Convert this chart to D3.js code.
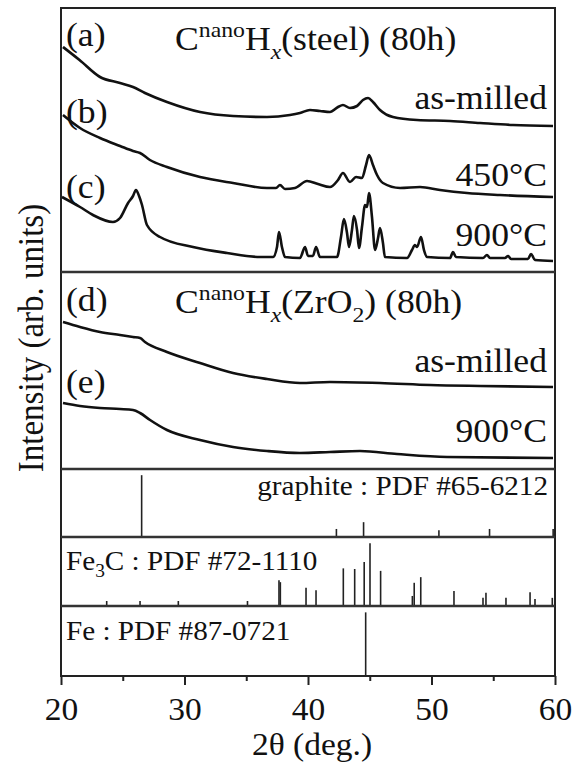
<!DOCTYPE html>
<html>
<head>
<meta charset="utf-8">
<script src="https://cdn.jsdelivr.net/npm/d3@7"></script>
<style>
  html, body { margin: 0; padding: 0; background: #fff; }
  svg { display: block; }
  text { font-family: 'Liberation Serif', 'Times New Roman', serif; fill: #111; }
</style>
</head>
<body>
<div id="root"></div>
<script>
const width = 576;
const height = 769;
const plot = { left: 61, right: 555, top: 8, bottom: 676 };
const panelEdges = [8, 272, 469, 537, 606, 676];
const stretch = 1.08;

// XRD patterns: [2theta (deg), intensity (arb. units)]

const steelAsMilled = [
  [20.16, 225], [21.5, 212], [23.16, 195], [24.78, 189], [25.83, 185], [26.8, 179],
  [28.58, 170], [31.26, 160], [33.93, 156], [36.68, 155], [38.54, 157], [39.35, 159],
  [40.16, 162], [40.97, 161], [41.78, 160], [42.43, 165], [42.83, 167], [43.4, 164],
  [43.97, 166], [44.45, 172], [44.86, 174], [45.26, 170], [45.83, 162], [46.88, 155],
  [48.83, 152], [51.5, 151], [53.93, 149], [56.6, 147], [59.84, 146],
];

const steel450 = [
  [20.16, 157], [21.54, 144], [23.16, 134], [24.78, 126], [25.83, 121], [26.4, 119],
  [27.2, 112], [28.58, 105], [31.26, 95], [33.93, 89], [36.68, 84], [37.41, 84],
  [37.73, 87], [38.14, 83], [38.95, 84], [39.92, 91], [40.81, 88], [41.78, 85],
  [42.43, 92], [42.83, 99], [43.4, 90], [43.89, 95], [44.37, 94], [44.7, 107],
  [44.94, 117], [45.26, 107], [45.59, 97], [46.07, 89], [47.45, 84], [49.07, 85],
  [50.69, 82], [52.87, 79], [55.55, 77], [59.84, 75],
];

const steel900 = [
  [20.08, 75], [21.54, 65], [22.59, 57], [24.21, 50], [24.78, 54], [25.43, 69],
  [25.83, 76], [26.07, 82], [26.32, 76], [26.56, 67], [26.96, 47], [28.02, 35],
  [30.69, 25], [33.44, 19], [36.11, 15], [37.17, 15], [37.49, 25], [37.65, 40],
  [37.89, 25], [38.14, 15], [39.35, 14], [39.76, 25], [40.0, 16], [40.4, 16],
  [40.65, 25], [40.97, 15], [42.35, 15], [42.67, 35], [42.91, 53], [43.16, 39],
  [43.32, 25], [43.56, 42], [43.72, 56], [43.97, 42], [44.13, 24], [44.37, 45],
  [44.62, 67], [44.78, 65], [44.94, 79], [45.18, 55], [45.43, 22], [45.67, 34],
  [45.83, 44], [46.07, 29], [46.23, 15], [48.02, 14], [48.42, 22], [48.66, 27],
  [48.83, 25], [49.15, 35], [49.39, 22], [49.64, 15], [51.5, 14], [51.74, 20],
  [51.98, 15], [54.17, 14], [54.49, 17], [54.74, 14], [55.95, 14], [56.2, 16],
  [56.44, 13], [57.81, 13], [58.06, 18], [58.38, 12], [59.84, 11],
];

const zrAsMilled = [
  [20.16, 147], [21.54, 142], [23.16, 137], [24.78, 134], [25.83, 132], [26.4, 131],
  [26.8, 127], [28.58, 117], [31.26, 106], [33.93, 96], [36.68, 90], [39.35, 86],
  [41.78, 87], [45.83, 86], [49.88, 84], [53.93, 83], [59.84, 82],
];

const zr900 = [
  [20.16, 66], [21.54, 63], [23.16, 61], [24.78, 60], [25.83, 59], [26.4, 56],
  [27.21, 49], [28.58, 39], [31.26, 29], [33.93, 22], [36.68, 18], [39.35, 16],
  [41.78, 17], [44.21, 18], [47.21, 15], [51.26, 12], [59.84, 11],
];

// Reference patterns: [2theta (deg), relative intensity]

const graphiteRef = [
  [26.53, 100], [42.3, 13], [44.5, 24], [50.6, 11], [54.7, 13], [59.85, 13],
];

const fe3cRef = [
  [23.7, 8], [26.4, 8], [29.5, 8], [35.1, 8], [37.65, 41], [37.76, 38],
  [39.84, 29], [40.65, 25], [42.86, 60], [43.78, 59], [44.55, 70], [45.02, 100],
  [45.88, 56], [48.45, 16], [48.6, 37], [49.13, 46], [51.82, 24], [54.17, 13],
  [54.41, 21], [56.03, 13], [57.98, 22], [58.38, 11], [59.78, 13],
];

const feRef = [[44.67, 100]];

const xTicks = [20, 30, 40, 50, 60];
const xMinorTicks = [25, 35, 45, 55];

// Canvas

const svg = d3
  .select('#root')
  .append('svg')
  .attr('width', width)
  .attr('height', height);

// Scales

const x = d3.scaleLinear().domain([20, 60]).range([plot.left, plot.right]);

const yTop = d3.scaleLinear().domain([0, 264]).range([panelEdges[1], panelEdges[0]]);
const yMid = d3.scaleLinear().domain([0, 197]).range([panelEdges[2], panelEdges[1]]);

const stickScale = (i) =>
  d3.scaleLinear().domain([0, 110]).range([panelEdges[i + 1], panelEdges[i]]);

// Text helper, the original figure is slightly wider than tall

function label(px, py, size, anchor) {
  return svg
    .append('text')
    .attr('transform', `translate(${px},${py}) scale(${stretch},1)`)
    .attr('font-size', size)
    .attr('text-anchor', anchor || 'start');
}

// Patterns

const drawPattern = (data, yScale) => {
  const line = d3
    .line()
    .x((d) => x(d[0]))
    .y((d) => yScale(d[1]))
    .curve(d3.curveMonotoneX);

  svg
    .append('path')
    .datum(data)
    .attr('d', line)
    .attr('fill', 'none')
    .attr('stroke', '#111')
    .attr('stroke-width', 2.6)
    .attr('stroke-linejoin', 'round');
};

drawPattern(steelAsMilled, yTop);
drawPattern(steel450, yTop);
drawPattern(steel900, yTop);
drawPattern(zrAsMilled, yMid);
drawPattern(zr900, yMid);

// Reference sticks

[graphiteRef, fe3cRef, feRef].forEach((ref, i) => {
  const ys = stickScale(i + 2);
  svg
    .append('g')
    .selectAll('line')
    .data(ref)
    .enter()
    .append('line')
    .attr('x1', (d) => x(d[0]))
    .attr('x2', (d) => x(d[0]))
    .attr('y1', ys(0))
    .attr('y2', (d) => ys(d[1]))
    .attr('stroke', '#222')
    .attr('stroke-width', 1.6);
});

// Frame and panel dividers

svg
  .append('rect')
  .attr('x', plot.left)
  .attr('y', plot.top)
  .attr('width', plot.right - plot.left)
  .attr('height', plot.bottom - plot.top)
  .attr('fill', 'none')
  .attr('stroke', '#222')
  .attr('stroke-width', 2);

svg
  .append('g')
  .selectAll('line')
  .data(panelEdges.slice(1, 5))
  .enter()
  .append('line')
  .attr('x1', plot.left)
  .attr('x2', plot.right)
  .attr('y1', (d) => d)
  .attr('y2', (d) => d)
  .attr('stroke', '#333')
  .attr('stroke-width', 2.5);

// Axis

const xAxis = d3
  .axisBottom(x)
  .tickValues(xTicks)
  .tickSize(9)
  .tickSizeOuter(0)
  .tickPadding(13)
  .tickFormat(d3.format('d'));

const axisG = svg
  .append('g')
  .attr('transform', `translate(0,${plot.bottom})`)
  .call(xAxis);

axisG.select('.domain').remove();
axisG.selectAll('line').attr('stroke', '#222').attr('stroke-width', 2);
axisG
  .selectAll('text')
  .attr('font-size', 31)
  .attr('fill', '#111')
  .attr('transform', `scale(${stretch},1)`);

const minorG = svg
  .append('g')
  .attr('transform', `translate(0,${plot.bottom})`)
  .call(d3.axisBottom(x).tickValues(xMinorTicks).tickSize(5).tickFormat(''));

minorG.select('.domain').remove();
minorG.selectAll('line').attr('stroke', '#222').attr('stroke-width', 2);

// Axis titles

label(312, 755, 31, 'middle').text('2θ (deg.)');

svg
  .append('text')
  .attr('transform', `translate(43,338) rotate(-90) scale(1,${stretch})`)
  .attr('font-size', 33)
  .attr('text-anchor', 'middle')
  .text('Intensity (arb. units)');

// Panel titles

function sampleTitle(py, host) {
  const t = label(175, py, 33);
  t.append('tspan').text('C');
  t.append('tspan').attr('font-size', 22).attr('dy', -13).text('nano');
  t.append('tspan').attr('dy', 13).text('H');
  t.append('tspan')
    .attr('font-size', 22)
    .attr('font-style', 'italic')
    .attr('dy', 9)
    .text('x');
  t.append('tspan').attr('dy', -9).text('(' + host);
  if (host === 'ZrO') {
    t.append('tspan').attr('font-size', 22).attr('dy', 9).text('2');
    t.append('tspan').attr('dy', -9).text(') (80h)');
  } else {
    t.append('tspan').text(') (80h)');
  }
}

sampleTitle(50, 'steel');
sampleTitle(313, 'ZrO');

// Curve labels

const sideLabels = [
  ['(a)', 46], ['(b)', 123], ['(c)', 198], ['(d)', 311], ['(e)', 393],
];
sideLabels.forEach(([t, py]) => label(66, py, 33).text(t));

const rightLabels = [
  ['as-milled', 109], ['450°C', 186], ['900°C', 246], ['as-milled', 372], ['900°C', 442],
];
rightLabels.forEach(([t, py]) => label(547, py, 33, 'end').text(t));

// Reference labels

label(548, 495, 27, 'end').text('graphite : PDF #65-6212');

const fe3c = label(66, 570, 27);
fe3c.append('tspan').text('Fe');
fe3c.append('tspan').attr('font-size', 18).attr('dy', 7).text('3');
fe3c.append('tspan').attr('dy', -7).text('C : PDF #72-1110');

label(66, 640, 27).text('Fe : PDF #87-0721');
</script>
</body>
</html>
